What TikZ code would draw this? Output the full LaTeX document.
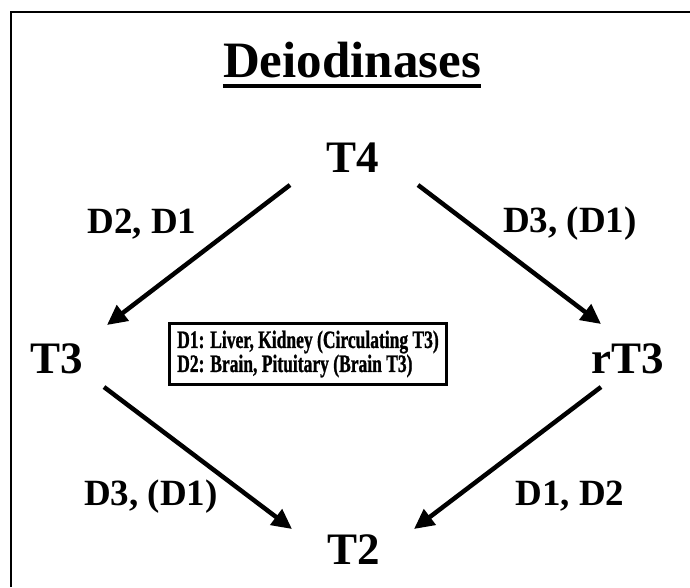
\documentclass[tikz,border=0pt]{standalone}
\usepackage{fontspec}
\setmainfont{Liberation Serif}
\newfontfamily\narrowserif[FakeStretch=0.7, FakeBold=1]{Liberation Serif}
\usetikzlibrary{arrows.meta, calc}

\tikzset{
  hormone/.style={font=\bfseries\fontsize{45}{45}\selectfont, inner sep=0pt, anchor=base},
  enzyme/.style={font=\bfseries\fontsize{37}{37}\selectfont, inner sep=0pt, anchor=base},
  conv/.style={line width=4.5pt, -{Triangle[length=20pt,width=19pt]}},
}

\begin{document}
\begin{tikzpicture}[x=1pt, y=-1pt]
    \useasboundingbox (0,0) rectangle (690,587);
    \draw[line width=1.5pt] (11,587) -- (11,12) -- (690,12);

    \node[inner sep=0pt, anchor=base, font=\bfseries\fontsize{51}{51}\selectfont] (title) at (352,77) {Deiodinases};
    \draw[line width=4pt] ([yshift=-9pt]title.base west) -- ([yshift=-9pt]title.base east);

    \node[hormone] (t4) at (353,172) {T4};
    \node[hormone] (t3) at (57,373) {T3};
    \node[hormone] (rt3) at (628,373) {rT3};
    \node[hormone] (t2) at (354,564) {T2};

    \node[enzyme] (e41) at (142,233) {D2, D1};
    \node[enzyme] (e42) at (570,232) {D3, (D1)};
    \node[enzyme] (e31) at (151,505) {D3, (D1)};
    \node[enzyme] (e32) at (570,505) {D1, D2};

    \node[draw, line width=3pt, inner xsep=8pt, inner ysep=7pt, align=left,
          font=\narrowserif\bfseries\fontsize{25}{24}\selectfont] (key) at (308,354)
          {D1: Liver, Kidney (Circulating T3)\\D2: Brain, Pituitary (Brain T3)};

    \draw[conv] ($(t4.base)+(-63,13)$) -- ($(t3.base)+(50,-48)$);
    \draw[conv] ($(t4.base)+(65,13)$) -- ($(rt3.base)+(-27,-49)$);
    \draw[conv] ($(t3.base)+(47,14)$) -- ($(t2.base)+(-62,-35)$);
    \draw[conv] ($(rt3.base)+(-27,14)$) -- ($(t2.base)+(60,-35)$);
  \end{tikzpicture}
\end{document}
